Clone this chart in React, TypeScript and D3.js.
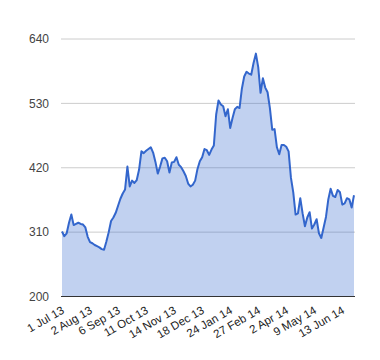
import React from "react";
import * as d3 from "d3";

// Closing values, sampled every second trading day (Jul 2013 – Jun 2014)
const values: number[] = [
  311, 303, 308, 326, 340, 322, 324, 326, 324, 323,
  318, 302, 293, 291, 288, 286, 284, 281, 280, 294,
  310, 329, 335, 343, 355, 367, 376, 383, 422, 388,
  398, 394, 399, 417, 448, 445, 449, 452, 455, 446,
  430, 410, 422, 436, 437, 431, 412, 429, 430, 438,
  425, 421, 414, 406, 393, 388, 391, 398, 418, 431,
  438, 452, 450, 442, 451, 458, 511, 535, 528, 525,
  508, 520, 488, 505, 520, 524, 522, 555, 576, 584,
  581, 579, 599, 615, 592, 548, 573, 557, 549, 522,
  485, 486, 455, 443, 459, 459, 456, 448, 403, 378,
  340, 342, 368, 342, 320, 335, 344, 316, 323, 332,
  308, 300, 318, 336, 366, 384, 372, 370, 382, 378,
  357, 359, 368, 366, 352, 373,
];

const tickLabels: string[] = [
  "1 Jul 13", "2 Aug 13", "6 Sep 13", "11 Oct 13", "14 Nov 13", "18 Dec 13",
  "24 Jan 14", "27 Feb 14", "2 Apr 14", "9 May 14", "13 Jun 14",
];
const tickIndexStep = 12;

const yTicks: number[] = [200, 310, 420, 530, 640];

const W = 380;
const H = 360;
const left = 62;
const right = 354;
const top = 39;
const bottom = 296.5;

export default function App() {
  const x = d3.scaleLinear().domain([0, values.length - 1]).range([left, right]);
  const y = d3.scaleLinear().domain([200, 640]).range([bottom, top]);

  const line = d3
    .line<number>()
    .x((_, i) => x(i))
    .y((d) => y(d));
  const area = d3
    .area<number>()
    .x((_, i) => x(i))
    .y0(y(200))
    .y1((d) => y(d));

  const font = "Arial, 'Liberation Sans', sans-serif";

  return (
    <svg
      width={W}
      height={H}
      style={{ position: "absolute", left: 0, top: 0, background: "#fff" }}
    >
      {yTicks.slice(1).map((t) => (
        <line key={t} x1={left - 1} x2={right + 1} y1={y(t)} y2={y(t)} stroke="#cccccc" strokeWidth={1} />
      ))}
      <path d={area(values) || ""} fill="#3366cc" fillOpacity={0.3} />
      <path d={line(values) || ""} fill="none" stroke="#3366cc" strokeWidth={2} strokeLinejoin="round" />
      <line x1={left - 1} x2={right + 1} y1={y(200)} y2={y(200)} stroke="#333333" strokeWidth={1} />
      {yTicks.map((t) => (
        <text
          key={t}
          x={49}
          y={y(t)}
          dy="0.35em"
          textAnchor="end"
          fontFamily={font}
          fontSize={12}
          fill="#444444"
        >
          {t}
        </text>
      ))}
      {tickLabels.map((lab, k) => {
        const tx = x(k * tickIndexStep);
        return (
          <text
            key={lab}
            transform={`translate(${tx + 3},${bottom + 16}) rotate(-30)`}
            textAnchor="end"
            fontFamily={font}
            fontSize={11.5}
            fill="#222222"
          >
            {lab}
          </text>
        );
      })}
    </svg>
  );
}
